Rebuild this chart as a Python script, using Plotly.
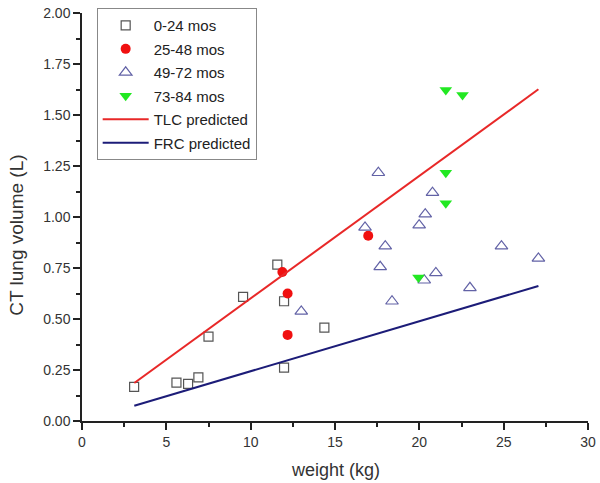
import plotly.graph_objects as go

# 0-24 mos
sq_x = [3.09, 5.6, 6.29, 6.9, 7.5, 9.55, 11.58, 11.98, 11.98, 14.37]
sq_y = [0.167, 0.188, 0.182, 0.214, 0.414, 0.608, 0.767, 0.587, 0.262, 0.458]
# 25-48 mos
rd_x = [11.88, 12.19, 12.19, 16.97]
rd_y = [0.730, 0.625, 0.422, 0.908]
# 49-72 mos
tu_x = [13.0, 17.57, 20.78, 20.35, 19.99, 16.78, 17.98, 24.87, 27.06, 17.68, 20.98, 20.29, 23.0, 18.38]
tu_y = [0.537, 1.217, 1.119, 1.014, 0.960, 0.949, 0.857, 0.857, 0.797, 0.756, 0.726, 0.690, 0.653, 0.587]
# 73-84 mos
gd_x = [21.57, 22.56, 21.57, 21.57, 19.95]
gd_y = [1.623, 1.598, 1.217, 1.067, 0.704]
# predicted lines
tlc_x = [3.1, 27.06]
tlc_y = [0.186, 1.626]
frc_x = [3.1, 27.06]
frc_y = [0.075, 0.662]

x_title = "weight (kg)"
y_title = "CT lung volume (L)"

fig = go.Figure()
fig.add_trace(go.Scatter(x=sq_x, y=sq_y, mode="markers", name="0-24 mos", legendgroup="a",
                         marker=dict(symbol="square-open", size=9, color="#555555", line=dict(width=1.2))))
fig.add_trace(go.Scatter(x=rd_x, y=rd_y, mode="markers", name="25-48 mos", legendgroup="b",
                         marker=dict(symbol="circle", size=10, color="#f01010")))
fig.add_trace(go.Scatter(x=tu_x, y=tu_y, mode="markers", name="49-72 mos", legendgroup="c",
                         marker=dict(symbol="triangle-up-open", size=11, color="#6262a6", line=dict(width=1.2))))
fig.add_trace(go.Scatter(x=gd_x, y=gd_y, mode="markers", name="73-84 mos", legendgroup="d",
                         marker=dict(symbol="triangle-down", size=11, color="#22e822")))
fig.add_trace(go.Scatter(x=tlc_x, y=tlc_y, mode="lines", name="TLC predicted", legendgroup="e",
                         line=dict(color="#e82828", width=2)))
fig.add_trace(go.Scatter(x=frc_x, y=frc_y, mode="lines", name="FRC predicted", legendgroup="f",
                         line=dict(color="#1c1c78", width=2)))

font_fam = "Liberation Sans, Arial, sans-serif"
fig.update_layout(
    width=600, height=483,
    margin=dict(l=81.5, r=12.3, t=13.3, b=62, autoexpand=False),
    paper_bgcolor="white", plot_bgcolor="white",
    font=dict(family=font_fam, size=12, color="#333333"),
    showlegend=True,
    legend=dict(x=0.029, y=1.012, xanchor="left", yanchor="top",
                bgcolor="white", bordercolor="#888888", borderwidth=1,
                font=dict(size=15, color="#222222"), itemwidth=46,
                tracegroupgap=1),
    annotations=[
        dict(text=x_title, xref="paper", yref="paper", x=0.5, y=-0.12,
             xanchor="center", yanchor="middle", showarrow=False,
             font=dict(size=18, color="#333333")),
        dict(text=y_title, xref="paper", yref="paper", x=-0.129, y=0.456,
             xanchor="center", yanchor="middle", showarrow=False, textangle=-90,
             font=dict(size=19, color="#333333")),
    ],
)
fig.update_xaxes(range=[0, 30], dtick=5, tick0=0, showgrid=False, zeroline=False, automargin=False,
                 showline=True, linecolor="#222222", linewidth=1.5,
                 ticks="outside", ticklen=7, tickcolor="#222222", tickwidth=1.5,
                 minor=dict(ticks="outside", ticklen=4, dtick=2.5, tickcolor="#222222", tickwidth=1.5, showgrid=False),
                 tickfont=dict(size=14, color="#333333"))
fig.update_yaxes(range=[0, 2.0], dtick=0.25, tick0=0, tickformat=".2f", showgrid=False, zeroline=False,
                 automargin=False,
                 showline=True, linecolor="#222222", linewidth=1.5,
                 ticks="outside", ticklen=7, tickcolor="#222222", tickwidth=1.5,
                 minor=dict(ticks="outside", ticklen=4, dtick=0.125, tickcolor="#222222", tickwidth=1.5, showgrid=False),
                 tickfont=dict(size=14, color="#333333"))

fig.write_html("out.html", config={"displayModeBar": False},
               post_script="document.body.style.margin='0';document.body.style.overflow='hidden';")
